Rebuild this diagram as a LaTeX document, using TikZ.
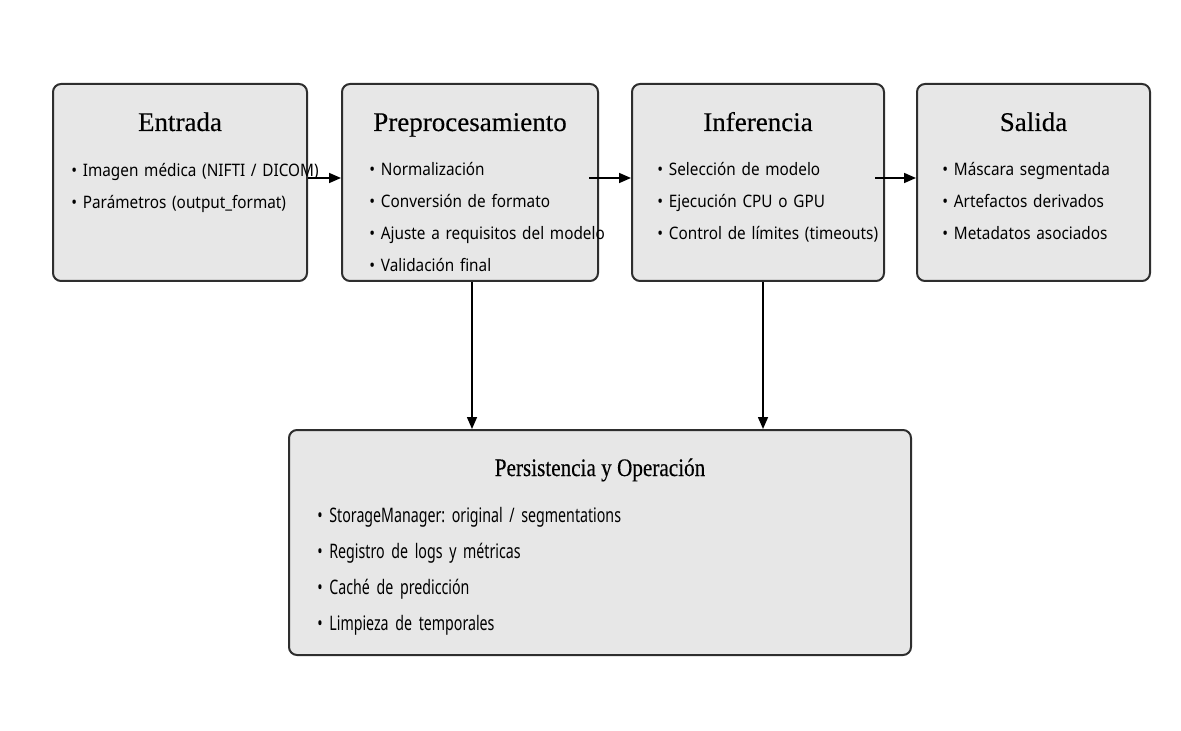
\documentclass[tikz,border=0pt]{standalone}
\usepackage{fontspec}
\setmainfont{Liberation Serif}
\newfontfamily\titlesfont[FakeBold=0.3]{Liberation Serif}
\newfontfamily\narrowtitlefont[FakeStretch=0.84, FakeBold=0.3]{Liberation Serif}
\newfontfamily\itemsfont[FakeStretch=0.89, WordSpace=0.85]{Noto Sans}
\newfontfamily\narrowitemsfont[FakeStretch=0.71, WordSpace=0.6]{Noto Sans}
\usetikzlibrary{arrows.meta, positioning}
\definecolor{boxfill}{HTML}{E7E7E7}
\definecolor{boxline}{HTML}{2E2E2E}
\tikzset{
  stage/.style={draw=boxline, fill=boxfill, line width=1pt, rounded corners=4pt,
    minimum height=98.5pt, inner sep=0pt},
  stagetitle/.style={anchor=base, inner sep=0pt, font=\titlesfont\fontsize{13.5}{16}\selectfont},
  items/.style={anchor=base west, inner sep=0pt, text width=140pt, align=left,
    font=\frenchspacing\itemsfont\fontsize{8.6}{16}\selectfont},
  flow/.style={-{Triangle[length=6pt,width=5pt]}, line width=0.8pt, black}
}

\begin{document}
\begin{tikzpicture}[x=0.5pt, y=-0.5pt]
\useasboundingbox (0,0) rectangle (1181,731);
%% top row of stages
  \node[stage, minimum width=127pt] (ent) at (180,182.5) {};
  \node[stage, minimum width=128pt] (pre) at (470,182.5) {};
  \node[stage, minimum width=126pt] (inf) at (758,182.5) {};
  \node[stage, minimum width=116.5pt] (sal) at (1033.5,182.5) {};
%% bottom stage
  \node[stage, minimum width=311pt, minimum height=112.5pt] (per) at (600,542.5) {};
%% titles
  \node[stagetitle] (ent-t) at ([yshift=-24pt]ent.north) {Entrada};
  \node[stagetitle] (pre-t) at ([yshift=-24pt]pre.north) {Preprocesamiento};
  \node[stagetitle] (inf-t) at ([yshift=-24pt]inf.north) {Inferencia};
  \node[stagetitle] (sal-t) at ([yshift=-24pt]sal.north) {Salida};
  \node[stagetitle, font=\narrowtitlefont\fontsize{12.6}{15}\selectfont] (per-t)
    at ([yshift=-23.5pt]per.north) {Persistencia y Operación};
%% bullet lists
  \node[items] (ent-l) at ([xshift=9.5pt, yshift=-47pt]ent.north west)
    {• Imagen médica (NIFTI / DICOM)\\ • Parámetros (output\_format)};
  \node[items] (pre-l) at ([xshift=14pt, yshift=-46.5pt]pre.north west)
    {• Normalización\\ • Conversión de formato\\ • Ajuste a requisitos del modelo\\ • Validación final};
  \node[items] (inf-l) at ([xshift=13pt, yshift=-46.5pt]inf.north west)
    {• Selección de modelo\\ • Ejecución CPU o GPU\\ • Control de límites (timeouts)};
  \node[items] (sal-l) at ([xshift=13pt, yshift=-46.5pt]sal.north west)
    {• Máscara segmentada\\ • Artefactos derivados\\ • Metadatos asociados};
  \node[items, text width=260pt, font=\frenchspacing\narrowitemsfont\fontsize{10}{18}\selectfont] (per-l)
    at ([xshift=14.5pt, yshift=-46.5pt]per.north west)
    {• StorageManager: original / segmentations\\ • Registro de logs y métricas\\
     • Caché de predicción\\ • Limpieza de temporales};
%% arrows
  \draw[flow] ([yshift=2.25pt]ent.east) -- ([yshift=2.25pt]pre.west);
  \draw[flow] ([xshift=-5pt, yshift=2.25pt]pre.east) -- ([yshift=2.25pt]inf.west);
  \draw[flow] ([xshift=-5pt, yshift=2.25pt]inf.east) -- ([yshift=2.25pt]sal.west);
  \draw[flow] ([xshift=1pt]pre.south) -- ([xshift=1pt]pre.south |- per.north);
  \draw[flow] ([xshift=2.5pt]inf.south) -- ([xshift=2.5pt]inf.south |- per.north);
\end{tikzpicture}
\end{document}
